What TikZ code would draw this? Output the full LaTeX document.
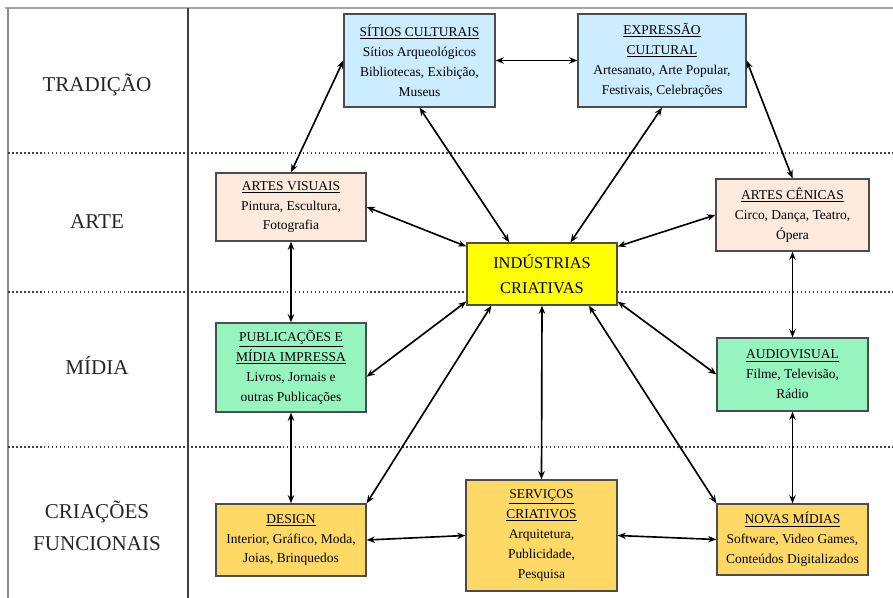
\documentclass[tikz,border=0pt]{standalone}
\usepackage{fontspec}
\setmainfont{Liberation Serif}
\usetikzlibrary{arrows.meta}

\definecolor{tradfill}{RGB}{204,236,255}
\definecolor{artefill}{RGB}{253,234,220}
\definecolor{midiafill}{RGB}{150,245,190}
\definecolor{funcfill}{RGB}{255,217,102}
\definecolor{corefill}{RGB}{255,255,0}

\tikzset{
  box/.style={draw=black!70, line width=1.1pt, align=center, inner sep=1pt,
    font=\fontsize{11.5}{17}\selectfont},
  dims/.style 2 args={minimum width=#1*0.03cm, minimum height=#2*0.03cm},
  link/.style={{Stealth[length=7pt,width=5.5pt]}-{Stealth[length=7pt,width=5.5pt]}, line width=1.4pt},
  rowlabel/.style={font=\fontsize{18}{27}\selectfont, text=black!85, align=center},
}

\begin{document}
\begin{tikzpicture}[x=0.03cm, y=-0.03cm]
  \useasboundingbox (0,0) rectangle (893,598);

  \draw[black!35, line width=2pt] (5,8) -- (893,8);
  \draw[black!45, line width=1.2pt] (8,8) -- (8,598);
  \draw[black!75, line width=1.2pt] (188,8) -- (188,598);
  \foreach \y in {153,292,447} \draw[black!75, dotted, line width=1.4pt] (8,\y) -- (893,\y);

  \node[rowlabel] (tradicao) at (97,85) {TRADIÇÃO};
  \node[rowlabel] (arte) at (97,222) {ARTE};
  \node[rowlabel] (midia) at (97,365) {MÍDIA};
  \node[rowlabel] (criacoes) at (97,526) {CRIAÇÕES\\FUNCIONAIS};

  \node[box, fill=tradfill, dims={151}{93}] (sitios) at (419.5,60.5)
    {\underline{SÍTIOS CULTURAIS}\\Sítios Arqueológicos\\Bibliotecas, Exibição,\\Museus};
  \node[box, fill=tradfill, dims={168}{93}] (expressao) at (662,60.5)
    {\underline{EXPRESSÃO}\\\underline{CULTURAL}\\Artesanato, Arte Popular,\\Festivais, Celebrações};
  \node[box, fill=artefill, dims={150}{68}] (visuais) at (291,207)
    {\underline{ARTES VISUAIS}\\Pintura, Escultura,\\Fotografia};
  \node[box, fill=artefill, dims={153}{72}] (cenicas) at (792.5,215)
    {\underline{ARTES CÊNICAS}\\Circo, Dança, Teatro,\\Ópera};
  \node[box, fill=corefill, dims={150}{62}, font=\fontsize{14}{21}\selectfont] (industrias) at (542,274)
    {INDÚSTRIAS\\CRIATIVAS};
  \node[box, fill=midiafill, dims={150}{89}] (publicacoes) at (291,367.5)
    {\underline{PUBLICAÇÕES E}\\\underline{MÍDIA IMPRESSA}\\Livros, Jornais e\\outras Publicações};
  \node[box, fill=midiafill, dims={151}{73}] (audiovisual) at (792.5,374.5)
    {\underline{AUDIOVISUAL}\\Filme, Televisão,\\Rádio};
  \node[box, fill=funcfill, dims={150}{72}] (design) at (291,540)
    {\underline{DESIGN}\\Interior, Gráfico, Moda,\\Joias, Brinquedos};
  \node[box, fill=funcfill, dims={151}{111}] (servicos) at (541.5,535.5)
    {\underline{SERVIÇOS}\\\underline{CRIATIVOS}\\Arquitetura,\\Publicidade,\\Pesquisa};
  \node[box, fill=funcfill, dims={151}{71}] (novas) at (792.5,539.5)
    {\underline{NOVAS MÍDIAS}\\Software, Video Games,\\Conteúdos Digitalizados};

  \draw[link] (sitios.east) -- (expressao.west);
  \draw[link] (sitios.west) -- (visuais.north);
  \draw[link] (expressao.east) -- (cenicas.north);
  \draw[link] (sitios.south) -- (industrias.136);
  \draw[link] (expressao.south) -- (industrias.48);
  \draw[link] (visuais.east) -- (industrias.160);
  \draw[link] (cenicas.west) -- (industrias.20);
  \draw[link] (publicacoes.-7) -- (industrias.200);
  \draw[link] (audiovisual.west) -- (industrias.-20);
  \draw[link] (design.north east) -- (industrias.-148);
  \draw[link] (servicos.north) -- (industrias.south);
  \draw[link] (novas.north west) -- (industrias.-34);
  \draw[link] (visuais.south) -- (publicacoes.north);
  \draw[link] (publicacoes.south) -- (design.north);
  \draw[link] (cenicas.south) -- (audiovisual.north);
  \draw[link] (audiovisual.south) -- (novas.north);
  \draw[link] (design.east) -- (servicos.west);
  \draw[link] (servicos.east) -- (novas.west);
\end{tikzpicture}
\end{document}
